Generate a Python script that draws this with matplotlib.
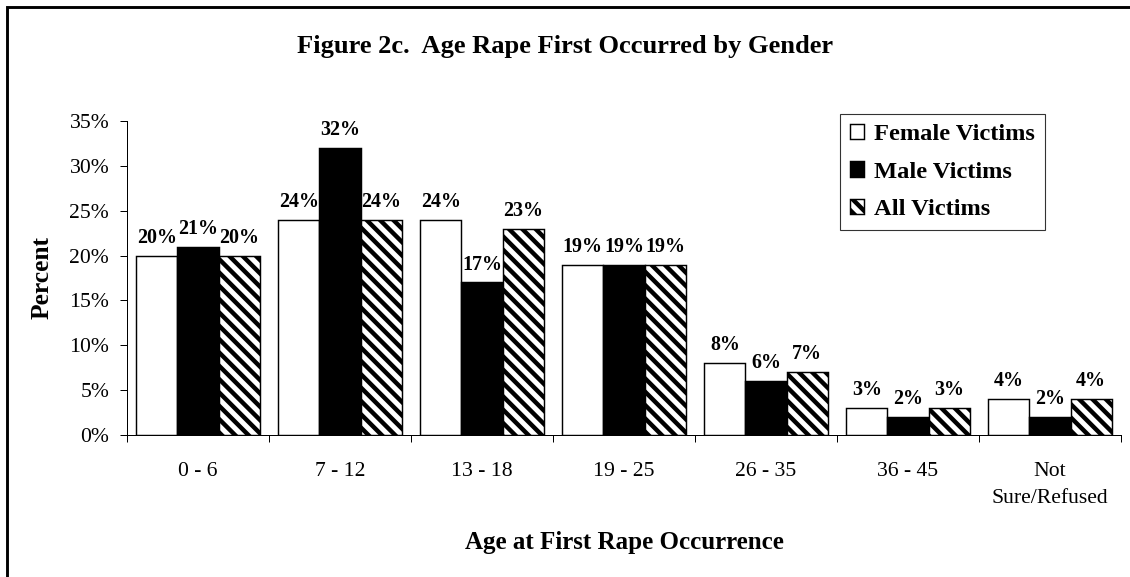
import matplotlib
matplotlib.use("Agg")
import matplotlib.pyplot as plt
import numpy as np
from matplotlib.patches import Patch, Rectangle

# data
ages = ["0 - 6", "7 - 12", "13 - 18", "19 - 25", "26 - 35", "36 - 45", "Not\nSure/Refused"]
female = [20, 24, 24, 19, 8, 3, 4]
male = [21, 32, 17, 19, 6, 2, 2]
all_victims = [20, 24, 23, 19, 7, 3, 4]
yticks = [0, 5, 10, 15, 20, 25, 30, 35]

plt.rcParams['font.family'] = ['Liberation Serif', 'DejaVu Serif']
plt.rcParams['hatch.linewidth'] = 4.0

DPI = 80
W, H = 1130, 577
fig = plt.figure(figsize=(W / DPI, H / DPI), dpi=DPI)
ax = fig.add_axes([127 / W, 1 - 435 / H, 994 / W, 314 / H])

x = np.arange(len(ages))
bw = 0.29
series = [
    (female, dict(color='white', edgecolor='black'), "Female Victims"),
    (male, dict(color='black', edgecolor='black'), "Male Victims"),
    (all_victims, dict(color='white', edgecolor='black', hatch='\\\\'), "All Victims"),
]
for k, (vals, style, name) in enumerate(series):
    pos = x + (k - 1) * bw
    ax.bar(pos, vals, width=bw, linewidth=1.3, **style)
    for p, v in zip(pos, vals):
        ax.annotate(f"{v}%", (p, v), xytext=(0, 7), textcoords='offset points',
                    ha='center', va='bottom', fontsize=18, fontweight='bold')

ax.set_xlim(-0.5, len(ages) - 0.5)
ax.set_ylim(0, 35)
ax.set_yticks(yticks)
ax.set_yticklabels([f"{t}%" for t in yticks], fontsize=19.5)
ax.set_xticks(np.arange(len(ages) + 1) - 0.5)
ax.set_xticklabels([])
ax.set_xticks(x, minor=True)
ax.set_xticklabels(ages, minor=True, fontsize=19.5, linespacing=1.6)
ax.tick_params(axis='x', which='minor', length=0, pad=24)
ax.tick_params(axis='both', which='major', length=6, width=0.9, direction='out')
ax.tick_params(axis='y', pad=10)
for s in ['top', 'right']:
    ax.spines[s].set_visible(False)
for s in ['left', 'bottom']:
    ax.spines[s].set_linewidth(0.9)

fig.text(42 / W, 1 - 278 / H, "Percent", rotation=90, ha='center', va='center',
         fontsize=23, fontweight='bold')
fig.text(624 / W, 1 - 543 / H, "Age at First Rape Occurrence", ha='center', va='center',
         fontsize=22.5, fontweight='bold')
fig.text(565 / W, 1 - 46 / H, "Figure 2c.  Age Rape First Occurred by Gender", ha='center', va='center',
         fontsize=23.8, fontweight='bold')

handles = [Patch(facecolor=s[1]['color'], edgecolor='black', hatch=s[1].get('hatch'), linewidth=1.3)
           for s in series]
leg = fig.legend(handles, [s[2] for s in series], loc='upper left',
                 bbox_to_anchor=(840 / W, 1 - 114 / H), prop={'size': 22, 'weight': 'bold'},
                 handlelength=0.6, handleheight=0.6, handletextpad=0.4, labelspacing=0.66,
                 borderpad=0.4, borderaxespad=0, fancybox=False, frameon=True)
leg.get_frame().set_edgecolor('black')
leg.get_frame().set_linewidth(1.0)

# thick outer frame, only left and top edges visible
fig.add_artist(Rectangle((6.5 / W, -0.2), 1.5, 1.2 - 7.5 / H, transform=fig.transFigure,
                         fill=False, edgecolor='black', linewidth=2.6))

fig.savefig("out.png", dpi=DPI)
